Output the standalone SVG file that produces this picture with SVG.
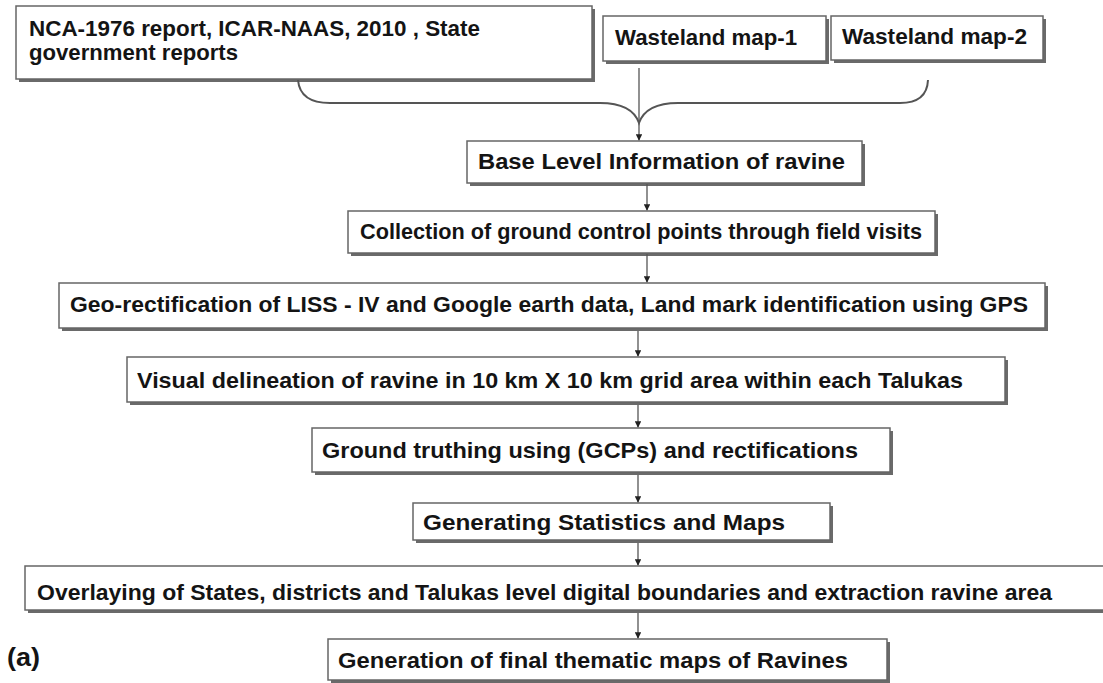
<svg xmlns="http://www.w3.org/2000/svg" width="1103" height="683" viewBox="0 0 1103 683">
<style>
.box{fill:#fff;stroke:#666;stroke-width:1.5}
.sh{fill:#6a6a6a}
.t{font-family:"Liberation Sans",Arial,sans-serif;font-weight:bold;font-size:22px;fill:#141414}
.c{fill:none;stroke:#555;stroke-width:1.3}
.brace{fill:none;stroke:#555;stroke-width:2}
</style>
<defs>
<marker id="ah" viewBox="0 0 10 10" refX="9" refY="5" markerWidth="5" markerHeight="5" orient="auto" markerUnits="strokeWidth">
<path d="M0,0 L10,5 L0,10 z" fill="#222"/>
</marker>
</defs>
<rect width="1103" height="683" fill="#fff"/>

<g id="n-nca">
<rect class="sh" x="19" y="9" width="576" height="73"/>
<rect class="box" x="16" y="6" width="576" height="73"/>
<text class="t" x="29" y="36" textLength="451" lengthAdjust="spacingAndGlyphs">NCA-1976 report, ICAR-NAAS, 2010 , State</text>
<text class="t" x="29" y="60" textLength="209" lengthAdjust="spacingAndGlyphs">government reports</text>
</g>
<g id="n-wm1">
<rect class="sh" x="606" y="19" width="223" height="45"/>
<rect class="box" x="603" y="16" width="223" height="45"/>
<text class="t" x="615" y="45" textLength="182" lengthAdjust="spacingAndGlyphs">Wasteland map-1</text>
</g>
<g id="n-wm2">
<rect class="sh" x="834" y="19" width="212" height="44"/>
<rect class="box" x="831" y="16" width="212" height="44"/>
<text class="t" x="842" y="44" textLength="185" lengthAdjust="spacingAndGlyphs">Wasteland map-2</text>
</g>
<g id="n-base">
<rect class="sh" x="470" y="144" width="395" height="42"/>
<rect class="box" x="467" y="141" width="395" height="42"/>
<text class="t" x="478" y="169" textLength="367" lengthAdjust="spacingAndGlyphs">Base Level Information of ravine</text>
</g>
<g id="n-collect">
<rect class="sh" x="351" y="214" width="587" height="42"/>
<rect class="box" x="348" y="211" width="587" height="42"/>
<text class="t" x="360" y="239" textLength="562" lengthAdjust="spacingAndGlyphs">Collection of ground control points through field visits</text>
</g>
<g id="n-geo">
<rect class="sh" x="62" y="286" width="986" height="45"/>
<rect class="box" x="59" y="283" width="986" height="45"/>
<text class="t" x="70" y="312" textLength="958" lengthAdjust="spacingAndGlyphs">Geo-rectification of LISS - IV and Google earth data, Land mark identification using GPS</text>
</g>
<g id="n-visual">
<rect class="sh" x="130" y="360" width="878" height="45"/>
<rect class="box" x="127" y="357" width="878" height="45"/>
<text class="t" x="137" y="388" textLength="826" lengthAdjust="spacingAndGlyphs">Visual delineation of ravine in 10 km X 10 km grid area within each Talukas</text>
</g>
<g id="n-ground">
<rect class="sh" x="315" y="431" width="578" height="44"/>
<rect class="box" x="312" y="428" width="578" height="44"/>
<text class="t" x="322" y="458" textLength="536" lengthAdjust="spacingAndGlyphs">Ground truthing using (GCPs) and rectifications</text>
</g>
<g id="n-stats">
<rect class="sh" x="416" y="506" width="417" height="37"/>
<rect class="box" x="413" y="503" width="417" height="37"/>
<text class="t" x="423" y="530" textLength="362" lengthAdjust="spacingAndGlyphs">Generating Statistics and Maps</text>
</g>
<g id="n-overlay">
<rect class="sh" x="28" y="569" width="1080" height="44"/>
<rect class="box" x="25" y="566" width="1090" height="44"/>
<text class="t" x="37" y="600" textLength="1015" lengthAdjust="spacingAndGlyphs">Overlaying of States,  districts and Talukas level digital boundaries and extraction ravine area</text>
</g>
<g id="n-final">
<rect class="sh" x="331" y="642" width="559" height="41"/>
<rect class="box" x="328" y="639" width="559" height="41"/>
<text class="t" x="338" y="668" textLength="510" lengthAdjust="spacingAndGlyphs">Generation of final thematic maps of Ravines</text>
</g>
<g id="label-a">
<text class="t" x="7" y="666" style="font-size:26px" textLength="33" lengthAdjust="spacingAndGlyphs">(a)</text>
</g>

<g id="connectors">
<path class="brace" d="M298,80 Q300,103 330,103 L600,103 Q632,103 639,123 Q646,103 678,103 L900,103 Q927,103 928,80"/>
<line class="c" x1="639" y1="68" x2="639" y2="140" marker-end="url(#ah)"/>
<line class="c" x1="647" y1="184" x2="647" y2="210" marker-end="url(#ah)"/>
<line class="c" x1="647" y1="254" x2="647" y2="282" marker-end="url(#ah)"/>
<line class="c" x1="638" y1="331" x2="638" y2="356" marker-end="url(#ah)"/>
<line class="c" x1="638" y1="405" x2="638" y2="427" marker-end="url(#ah)"/>
<line class="c" x1="638" y1="475" x2="638" y2="502" marker-end="url(#ah)"/>
<line class="c" x1="638" y1="543" x2="638" y2="565" marker-end="url(#ah)"/>
<line class="c" x1="638" y1="613" x2="638" y2="638" marker-end="url(#ah)"/>
</g>
</svg>
